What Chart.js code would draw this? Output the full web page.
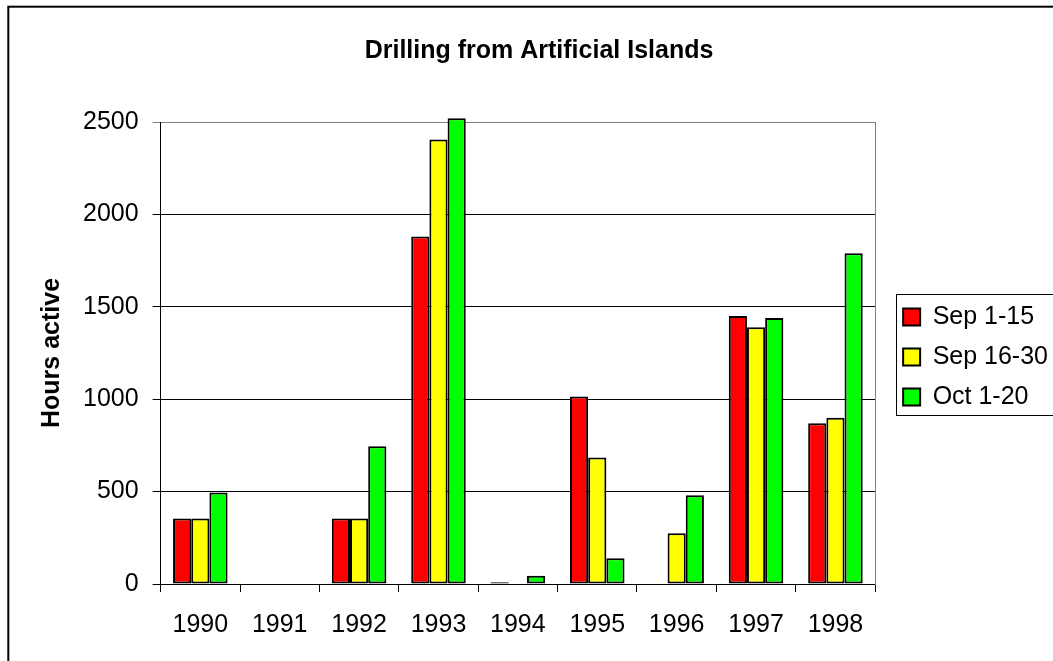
<!DOCTYPE html>
<html><head><meta charset="utf-8">
<script src="https://cdn.jsdelivr.net/npm/chart.js@4"></script>
<style>
html,body{margin:0;padding:0;background:#fff;overflow:hidden;}
#wrap{position:absolute;left:0;top:0;width:1058px;height:661px;}
</style></head><body>
<div id="wrap"><canvas id="c"></canvas></div>
<script>
const categories = ['1990','1991','1992','1993','1994','1995','1996','1997','1998'];
const seriesNames = ['Sep 1-15','Sep 16-30','Oct 1-20'];
const sep1to15  = [355, 0, 355, 1880, 10, 1015, 0, 1450, 870];
const sep16to30 = [355, 0, 355, 2405, 0, 685, 275, 1390, 900];
const oct1to20  = [495, 0, 745, 2520, 45, 140, 480, 1440, 1790];
const yTicks = [0, 500, 1000, 1500, 2000, 2500];
const yTickLabels = ['0', '500', '1000', '1500', '2000', '2500'];
const colors = ['#FF0000', '#FFFF00', '#00FF00'];

const FONT = 'Liberation Sans, Arial, sans-serif';

const framePlugin = {
  id: 'frame',
  afterDraw(chart) {
    const ctx = chart.ctx;
    ctx.save();
    ctx.strokeStyle = '#000';
    ctx.lineWidth = 2;
    ctx.strokeRect(8.3, 6.7, chart.width + 40, chart.height + 40);
    const lg = chart.legend;
    const hb = lg.legendHitBoxes;
    if (hb && hb.length) {
      const top = hb[0].top - 11;
      const last = hb[hb.length - 1];
      const bottom = last.top + last.height + 5;
      ctx.lineWidth = 1;
      ctx.strokeStyle = '#000';
      ctx.strokeRect(Math.round(lg.left + 8) + 0.5, Math.round(top) + 0.5, chart.width, Math.round(bottom - top));
    }
    ctx.restore();
  }
};

const data = {
  labels: categories,
  datasets: [sep1to15, sep16to30, oct1to20].map((vals, i) => ({
    label: seriesNames[i],
    data: vals,
    backgroundColor: colors[i],
    borderColor: '#000',
    borderWidth: 2,
    borderSkipped: false,
    clip: false,
    categoryPercentage: 0.687,
    barPercentage: 1.0
  }))
};

new Chart(document.getElementById('c'), {
  type: 'bar',
  data,
  plugins: [framePlugin],
  options: {
    responsive: true,
    maintainAspectRatio: false,
    animation: false,
    layout: { padding: { left: 20, right: 0, top: 0, bottom: 3 } },
    plugins: {
      title: {
        display: true,
        text: 'Drilling from Artificial Islands',
        color: '#000',
        font: { family: FONT, size: 25, weight: 'bold' },
        padding: { top: 36, bottom: 56 }
      },
      legend: {
        position: 'right',
        fullSize: false,
        align: 'center',
        title: { display: true, text: ' ', font: { family: FONT, size: 5 }, padding: 1 },
        labels: {
          boxWidth: 17,
          boxHeight: 17,
          padding: 15,
          color: '#000',
          font: { family: FONT, size: 25 }
        }
      },
      tooltip: { enabled: false }
    },
    scales: {
      x: {
        grid: { display: true, drawOnChartArea: false, offset: true, color: '#000', tickLength: 8, lineWidth: 1 },
        border: { display: true, color: '#000', width: 1 },
        ticks: { color: '#000', font: { family: FONT, size: 25 }, padding: 18, maxRotation: 0, autoSkip: false }
      },
      y: {
        min: 0, max: 2500,
        afterBuildTicks: (s) => { s.ticks = yTicks.map(v => ({ value: v })); },
        grid: {
          color: (c) => (c.tick && c.tick.value === 2500 ? '#808080' : '#000'),
          tickLength: 8, lineWidth: 1
        },
        border: { display: true, color: '#000', width: 1 },
        ticks: {
          color: '#000', font: { family: FONT, size: 25 }, padding: 14,
          callback: (v) => yTickLabels[yTicks.indexOf(v)]
        },
        title: {
          display: true, text: 'Hours active', color: '#000',
          font: { family: FONT, size: 25, weight: 'bold' },
          padding: { top: 17, bottom: 2 }
        }
      },
      y2: {
        type: 'linear', position: 'right', display: true, min: 0, max: 2500,
        ticks: { display: false },
        grid: { drawOnChartArea: false, drawTicks: false },
        border: { display: true, color: '#808080', width: 1 },
        afterFit: (s) => { s.width = 13; }
      }
    }
  }
});
</script>
</body></html>
